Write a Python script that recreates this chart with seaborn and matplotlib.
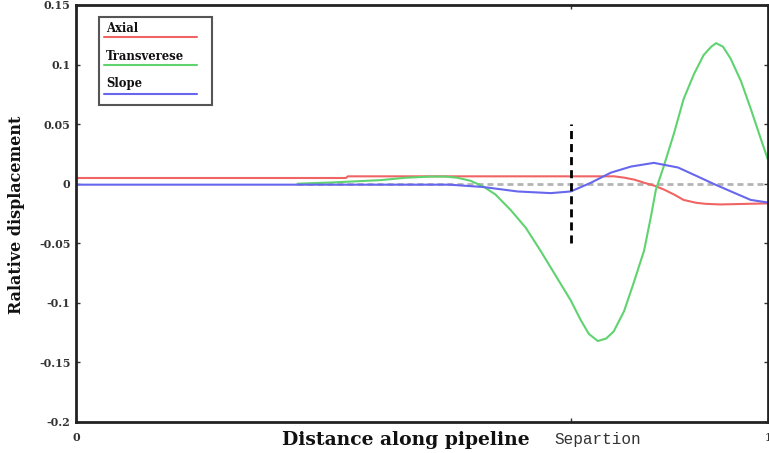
import numpy as np
import pandas as pd
import matplotlib
matplotlib.use("Agg")
import matplotlib.pyplot as plt
import matplotlib.transforms as mtransforms
import seaborn as sns
from matplotlib.lines import Line2D
from matplotlib.patches import Rectangle

# ---------------- data ----------------
axial_x = [0.0, 0.390, 0.393, 0.778, 0.793, 0.807, 0.821, 0.836, 0.850, 0.865,
           0.878, 0.896, 0.910, 0.931, 1.0]
axial_y = [0.0048, 0.0048, 0.0062, 0.0062, 0.0050, 0.0034, 0.0008, -0.0017, -0.0050,
           -0.0093, -0.0136, -0.0160, -0.0169, -0.0174, -0.0165]

trans_x = [0.320, 0.368, 0.404, 0.440, 0.476, 0.512, 0.534, 0.551, 0.570, 0.589,
           0.606, 0.628, 0.650, 0.671, 0.693, 0.715, 0.729, 0.741, 0.754, 0.766,
           0.777, 0.792, 0.806, 0.821, 0.831, 0.838, 0.849, 0.864, 0.878, 0.893,
           0.907, 0.918, 0.925, 0.935, 0.946, 0.961, 0.975, 0.990, 1.0]
trans_y = [0.0, 0.001, 0.002, 0.003, 0.005, 0.006, 0.006, 0.005, 0.0025, -0.0025,
           -0.009, -0.022, -0.037, -0.056, -0.077, -0.098, -0.114, -0.126, -0.132, -0.130,
           -0.124, -0.107, -0.083, -0.056, -0.027, -0.005, 0.014, 0.042, 0.071, 0.092,
           0.108, 0.115, 0.118, 0.115, 0.105, 0.086, 0.063, 0.037, 0.020]

slope_x = [0.0, 0.540, 0.589, 0.638, 0.686, 0.715, 0.744, 0.773, 0.802, 0.835,
           0.870, 0.899, 0.922, 0.951, 0.975, 1.0]
slope_y = [-0.0008, -0.0008, -0.0028, -0.0065, -0.0079, -0.0065, 0.0008, 0.0093, 0.0144, 0.0175,
           0.0136, 0.0059, -0.0003, -0.0076, -0.0136, -0.0158]

series_names = ["Axial", "Transverese", "Slope"]
separation_x = 0.715
zero_line_x = [0.32, 1.0]
sep_line_y = [-0.05, 0.05]

yticks = [-0.2, -0.15, -0.1, -0.05, 0, 0.05, 0.1, 0.15]
ytick_labels = ["-0.2", "-0.15", "-0.1", "-0.05", "0", "0.05", "0.1", "0.15"]
xticks = [0, separation_x, 1]
xtick_labels = ["0", "Separtion", "1"]

colors = {"Axial": "#f06464", "Transverese": "#5fd36f", "Slope": "#6767ee"}

# ---------------- frame ----------------
df = pd.concat([
    pd.DataFrame({"x": axial_x, "y": axial_y, "series": "Axial"}),
    pd.DataFrame({"x": trans_x, "y": trans_y, "series": "Transverese"}),
    pd.DataFrame({"x": slope_x, "y": slope_y, "series": "Slope"}),
])

sns.set_style("white")
plt.rcParams["lines.scale_dashes"] = False
plt.rcParams["font.family"] = ["DejaVu Serif", "Liberation Serif"]

fig = plt.figure(figsize=(7.69, 4.53), dpi=100)
ax = fig.add_axes([76 / 769, 31 / 453, 692 / 769, 417 / 453])

# zero reference (gray dashed)
ax.plot(zero_line_x, [0, 0], color="#b4b4b4", lw=2, dashes=(4.3, 2.9), zorder=1)

sns.lineplot(data=df, x="x", y="y", hue="series", palette=colors,
             estimator=None, sort=True, lw=1.5, ax=ax, legend=False, zorder=2)

# separation marker
ax.plot([separation_x, separation_x], sep_line_y, color="black", lw=2,
        dashes=(5.8, 3.6), zorder=3)

ax.set_xlim(0, 1)
ax.set_ylim(-0.2, 0.15)

ax.set_yticks(yticks)
ax.set_yticklabels(ytick_labels, fontsize=8, fontweight="bold", color="#333333")
ax.set_xticks(xticks)
ax.set_xticklabels(xtick_labels)
ax.tick_params(axis="both", which="both", direction="in", length=3, width=1,
               color="#333333", left=True, right=True, bottom=True, top=True, pad=4)
ax.tick_params(axis="x", pad=7)

for lbl in ax.get_xticklabels():
    if lbl.get_text() == "Separtion":
        lbl.set_fontfamily(["Liberation Mono", "DejaVu Sans Mono"])
        lbl.set_fontsize(11.5)
        lbl.set_fontweight("normal")
        lbl.set_transform(lbl.get_transform() +
                          mtransforms.ScaledTranslation(27 / 100, 0, fig.dpi_scale_trans))
    else:
        lbl.set_fontsize(8)
        lbl.set_fontweight("bold")
    lbl.set_color("#333333")

for s in ax.spines.values():
    s.set_visible(True)
    s.set_color("#222222")
    s.set_linewidth(2)

ax.set_xlabel("Distance along pipeline", fontsize=13.5, fontweight="bold", color="#111111")
ax.xaxis.label.set_va("center")
ax.xaxis.set_label_coords((406 - 76) / 692, (422 - 440) / 417)
ax.set_ylabel("Ralative displacement", fontsize=11.5, fontweight="bold", color="#111111")
ax.yaxis.label.set_va("center")
ax.yaxis.set_label_coords((17 - 76) / 692, (422 - 215) / 417)

# ---------------- legend (text above line, boxed) ----------------
def axfrac(px, py):
    return ((px - 76) / 692, (422 - py) / 417)

x0, y0 = axfrac(99, 105)
x1, y1 = axfrac(212, 17)
ax.add_patch(Rectangle((x0, y0), x1 - x0, y1 - y0, transform=ax.transAxes,
                       facecolor="white", edgecolor="#555555", lw=1.5, zorder=5))
entries = [("Axial", 28, 37), ("Transverese", 56, 65), ("Slope", 83, 94)]
for name, ty, ly in entries:
    tx, tyy = axfrac(106, ty)
    ax.text(tx, tyy, name, transform=ax.transAxes, fontsize=8.4, fontweight="bold",
            va="center", ha="left", color="#111111", zorder=6)
    lx0, lyy = axfrac(104, ly)
    lx1, _ = axfrac(197, ly)
    ax.add_line(Line2D([lx0, lx1], [lyy, lyy], transform=ax.transAxes,
                       color=colors[name], lw=1.5, zorder=6))

fig.savefig("out.png", dpi=100)
